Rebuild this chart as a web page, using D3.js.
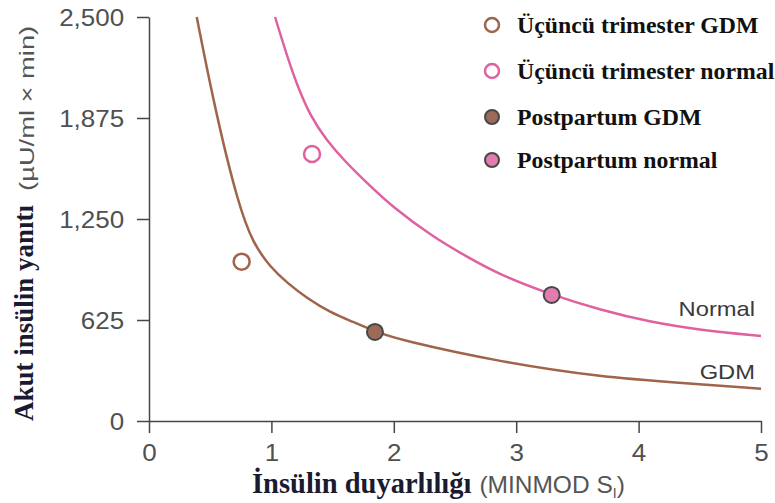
<!DOCTYPE html>
<html>
<head>
<meta charset="utf-8">
<script src="https://cdn.jsdelivr.net/npm/d3@7"></script>
<style>
    body { margin: 0; background: #fff; }
    svg { display: block; }
</style>
</head>
<body>
<script>
// curve readings (insulin sensitivity, acute insulin response)
const gdmCurveX = [0.39, 0.54, 0.73, 0.85, 0.99, 1.13, 1.29, 1.48, 1.67, 1.85, 2.05, 2.87, 3.69, 4.36, 5.0];
const gdmCurveY = [2500, 1924, 1337, 1100, 953, 854, 761, 672, 613, 553, 501, 365, 272, 235, 200];
const normalCurveX = [1.03, 1.18, 1.32, 1.45, 1.59, 1.78, 1.99, 2.32, 2.60, 2.87, 3.29, 3.69, 4.09, 4.50, 5.0];
const normalCurveY = [2500, 2129, 1881, 1739, 1615, 1473, 1324, 1139, 1015, 903, 780, 687, 613, 563, 526];

// measured points
const pointNames = ['Üçüncü trimester GDM', 'Üçüncü trimester normal', 'Postpartum GDM', 'Postpartum normal'];
const pointX = [0.757, 1.332, 1.846, 3.29];
const pointY = [986, 1652, 551, 780];

// ticks
const xTicks = [0, 1, 2, 3, 4, 5];
const yTicks = [0, 625, 1250, 1875, 2500];

const width = 775;
const height = 503;

const brown = '#9f644a';
const pink = '#e0619f';
const sans = 'Liberation Sans, Arial, sans-serif';
const serif = 'Liberation Serif, Times New Roman, serif';
const styles = [
    {fill: '#fff', stroke: brown, sw: 2.5},
    {fill: '#fff', stroke: pink, sw: 2.5},
    {fill: '#9c6b58', stroke: '#474747', sw: 2},
    {fill: '#e27cb0', stroke: '#474747', sw: 2}
];

const svg = d3.select('body')
    .append('svg')
    .attr('width', width)
    .attr('height', height);

const xScale = d3.scaleLinear()
    .domain([0, 5])
    .range([149, 761]);

const yScale = d3.scaleLinear()
    .domain([0, 2500])
    .range([421, 17]);

// axes
const xAxis = d3.axisBottom(xScale)
    .tickValues(xTicks)
    .tickSize(12)
    .tickSizeOuter(0)
    .tickPadding(6)
    .tickFormat(d3.format('d'));

const yAxis = d3.axisLeft(yScale)
    .tickValues(yTicks)
    .tickSize(12)
    .tickSizeOuter(0)
    .tickPadding(10)
    .tickFormat(d3.format(','));

const gx = svg.append('g')
    .attr('transform', 'translate(0,' + yScale(0) + ')')
    .call(xAxis);

const gy = svg.append('g')
    .attr('transform', 'translate(' + xScale(0) + ',0)')
    .call(yAxis);

[gx, gy].forEach(g => {
    g.selectAll('path, line').attr('stroke', '#474747').attr('stroke-width', 1.5);
    g.selectAll('text')
        .attr('font-family', sans)
        .attr('font-size', 23)
        .attr('fill', '#505050')
        .attr('transform', 'scale(1.13,1)');
});
gy.selectAll('text').attr('dy', '0.36em');
gx.selectAll('text').attr('dy', '0.95em');

// curves
const line = d3.line()
    .x(d => xScale(d[0]))
    .y(d => yScale(d[1]))
    .curve(d3.curveBasis);

svg.append('path')
    .attr('d', line(d3.zip(gdmCurveX, gdmCurveY)))
    .attr('fill', 'none')
    .attr('stroke', brown)
    .attr('stroke-width', 2.5);

svg.append('path')
    .attr('d', line(d3.zip(normalCurveX, normalCurveY)))
    .attr('fill', 'none')
    .attr('stroke', pink)
    .attr('stroke-width', 2.5);

// curve labels
const curveLabels = [['Normal', 316], ['GDM', 379]];
curveLabels.forEach(c => {
    svg.append('text')
        .attr('transform', 'translate(' + (xScale(5) - 6) + ',' + c[1] + ') scale(1.13,1)')
        .attr('text-anchor', 'end')
        .attr('font-family', sans)
        .attr('font-size', 21)
        .attr('fill', '#3a3a3a')
        .text(c[0]);
});

// points
svg.selectAll('circle.pt')
    .data(pointNames)
    .enter()
    .append('circle')
    .attr('class', 'pt')
    .attr('cx', (d, i) => xScale(pointX[i]))
    .attr('cy', (d, i) => yScale(pointY[i]))
    .attr('r', 8)
    .attr('fill', (d, i) => styles[i].fill)
    .attr('stroke', (d, i) => styles[i].stroke)
    .attr('stroke-width', (d, i) => styles[i].sw);

// legend
const legendY = [25, 71, 117, 160];
const legend = svg.selectAll('g.legend')
    .data(pointNames)
    .enter()
    .append('g')
    .attr('class', 'legend')
    .attr('transform', (d, i) => 'translate(492,' + legendY[i] + ')');

legend.append('circle')
    .attr('r', 7)
    .attr('fill', (d, i) => styles[i].fill)
    .attr('stroke', (d, i) => styles[i].stroke)
    .attr('stroke-width', (d, i) => styles[i].sw);

legend.append('text')
    .attr('x', 25)
    .attr('y', 8)
    .attr('font-family', serif)
    .attr('font-weight', 'bold')
    .attr('font-size', 23.8)
    .attr('fill', '#111')
    .text(d => d);

// y title
const yBold = svg.append('text')
    .attr('transform', 'translate(33,421) rotate(-90)')
    .attr('font-family', serif)
    .attr('font-weight', 'bold')
    .attr('font-size', 27)
    .attr('fill', '#1a1a30')
    .text('Akut insülin yanıtı');
const yBoldLen = yBold.node().getComputedTextLength();

svg.append('text')
    .attr('transform', 'translate(34,' + (421 - yBoldLen - 14) + ') rotate(-90) scale(1.3,1)')
    .attr('font-family', sans)
    .attr('font-size', 21)
    .attr('fill', '#555')
    .text('(µU/ml × min)');

// x title
const xTitle = svg.append('text')
    .attr('x', 252)
    .attr('y', 493);
xTitle.append('tspan')
    .attr('font-family', serif)
    .attr('font-weight', 'bold')
    .attr('font-size', 28.5)
    .attr('fill', '#1a1a30')
    .text('İnsülin duyarlılığı');
xTitle.append('tspan')
    .attr('dx', 8)
    .attr('font-family', sans)
    .attr('font-size', 24.5)
    .attr('fill', '#555')
    .text('(MINMOD S');
xTitle.append('tspan')
    .attr('font-family', sans)
    .attr('font-size', 14)
    .attr('dy', 5)
    .attr('fill', '#555')
    .text('I');
xTitle.append('tspan')
    .attr('font-family', sans)
    .attr('font-size', 24.5)
    .attr('dy', -5)
    .attr('fill', '#555')
    .text(')');
</script>
</body>
</html>
